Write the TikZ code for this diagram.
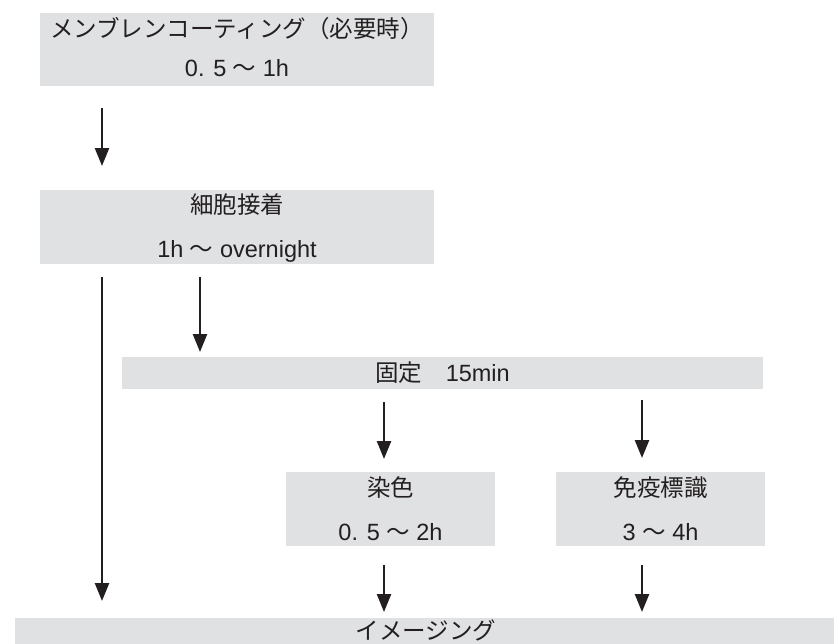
\documentclass[tikz,border=0pt]{standalone}
\usepackage{fontspec}
\setmainfont{Liberation Sans}
\newfontfamily\jp{Noto Sans CJK JP}
\usetikzlibrary{arrows.meta}
\definecolor{boxgray}{RGB}{224,225,227}
\definecolor{ink}{RGB}{35,31,32}
\begin{document}
\begin{tikzpicture}[x=1pt,y=-1pt,
  box/.style={fill=boxgray, draw=none, inner sep=0pt},
  lbl/.style={text=ink, anchor=base, inner sep=0pt, font=\fontsize{23.5}{28}\selectfont},
  arr/.style={draw=ink, line width=2.5pt, -{Triangle[length=18pt,width=14pt]}}]
\useasboundingbox (0,0) rectangle (834,643);
% boxes
\node[box, minimum width=394pt, minimum height=73pt] (b1) at (237,49.5) {};
\node[box, minimum width=394pt, minimum height=74pt] (b2) at (237,227) {};
\node[box, minimum width=641pt, minimum height=32pt] (b3) at (442.5,373) {};
\node[box, minimum width=209pt, minimum height=74pt] (b4) at (390.5,509) {};
\node[box, minimum width=209pt, minimum height=74pt] (b5) at (660.5,509) {};
\node[box, minimum width=826pt, minimum height=60pt] (b6) at (428,648) {};
% labels
\node[lbl] (b1a) at (237,37.5) {\jp メンブレンコーティング（必要時）};
\node[lbl] (b1b) at (237,76.5) {0. 5 {\jp ～} 1h};
\node[lbl] (b2a) at (237,213) {\jp 細胞接着};
\node[lbl] (b2b) at (237,257.5) {1h {\jp ～} overnight};
\node[lbl] (b3a) at (442.5,381) {{\jp 固定　}15min};
\node[lbl] (b4a) at (390.5,496) {\jp 染色};
\node[lbl] (b4b) at (390.5,540) {0. 5 {\jp ～} 2h};
\node[lbl] (b5a) at (660.5,496) {\jp 免疫標識};
\node[lbl] (b5b) at (660.5,540) {3 {\jp ～} 4h};
\node[lbl] (b6a) at (426,639) {\jp イメージング};
% arrow ends
\coordinate (a1s) at (102,108);  \coordinate (a1e) at (102,166);
\coordinate (a2s) at (102,277);  \coordinate (a2e) at (102,601);
\coordinate (a3s) at (200,277);  \coordinate (a3e) at (200,352);
\coordinate (a4s) at (384,402);  \coordinate (a4e) at (384,459);
\coordinate (a5s) at (642,400);  \coordinate (a5e) at (642,458);
\coordinate (a6s) at (384,565);  \coordinate (a6e) at (384,612);
\coordinate (a7s) at (642,565);  \coordinate (a7e) at (642,612);
\draw[arr] (a1s) -- (a1e);
\draw[arr] (a2s) -- (a2e);
\draw[arr] (a3s) -- (a3e);
\draw[arr] (a4s) -- (a4e);
\draw[arr] (a5s) -- (a5e);
\draw[arr] (a6s) -- (a6e);
\draw[arr] (a7s) -- (a7e);
\end{tikzpicture}
\end{document}
